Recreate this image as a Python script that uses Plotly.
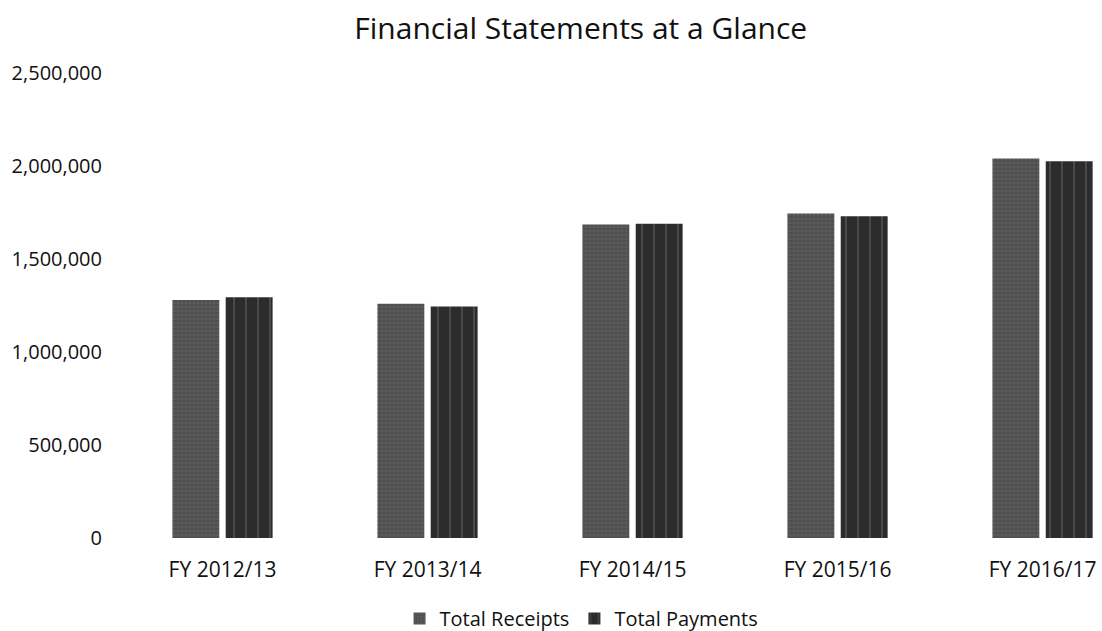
import plotly.graph_objects as go

categories = ["FY 2012/13", "FY 2013/14", "FY 2014/15", "FY 2015/16", "FY 2016/17"]
total_receipts = [1280000, 1260000, 1685000, 1745000, 2040000]
total_payments = [1295000, 1245000, 1690000, 1730000, 2025000]
y_ticks = [0, 500000, 1000000, 1500000, 2000000, 2500000]
y_tick_labels = ["0", "500,000", "1,000,000", "1,500,000", "2,000,000", "2,500,000"]

font_family = "'Open Sans', Lato, sans-serif"

fig = go.Figure()
fig.add_trace(go.Bar(
    name="Total Receipts", x=categories, y=total_receipts,
    marker=dict(color="#505050", line=dict(width=0),
                pattern=dict(shape=".", fgcolor="#6a6a6a", size=4, solidity=0.3)),
))
fig.add_trace(go.Bar(
    name="Total Payments", x=categories, y=total_payments,
    marker=dict(color="#2c2c2c", line=dict(width=0),
                pattern=dict(shape="|", fgcolor="#6e6e6e", size=12, solidity=0.15)),
))

fig.update_layout(
    width=1102, height=631,
    paper_bgcolor="white", plot_bgcolor="white",
    margin=dict(l=120, r=0, t=73, b=93, autoexpand=False),
    barmode="group", bargap=0.48, bargroupgap=0.12,
    title=dict(text="Financial Statements at a Glance", x=0.527, xanchor="center",
               y=0.955, yanchor="middle",
               font=dict(family=font_family, size=30, color="#111111")),
    font=dict(family=font_family, size=20, color="#111111"),
    xaxis=dict(range=[-0.5, 4.29], showgrid=False, showline=False, zeroline=False,
               ticks="", tickfont=dict(size=21), ticklabelstandoff=17),
    yaxis=dict(range=[0, 2500000], tickvals=y_ticks, ticktext=y_tick_labels,
               showgrid=False, showline=False, zeroline=False, ticks="",
               tickfont=dict(size=20), ticklabelstandoff=17),
    legend=dict(orientation="h", x=0.47, xanchor="center",
                yref="container", y=0.02, yanchor="middle",
                font=dict(size=20), traceorder="normal", itemwidth=30),
    showlegend=True,
)

fig.write_html("out.html")
